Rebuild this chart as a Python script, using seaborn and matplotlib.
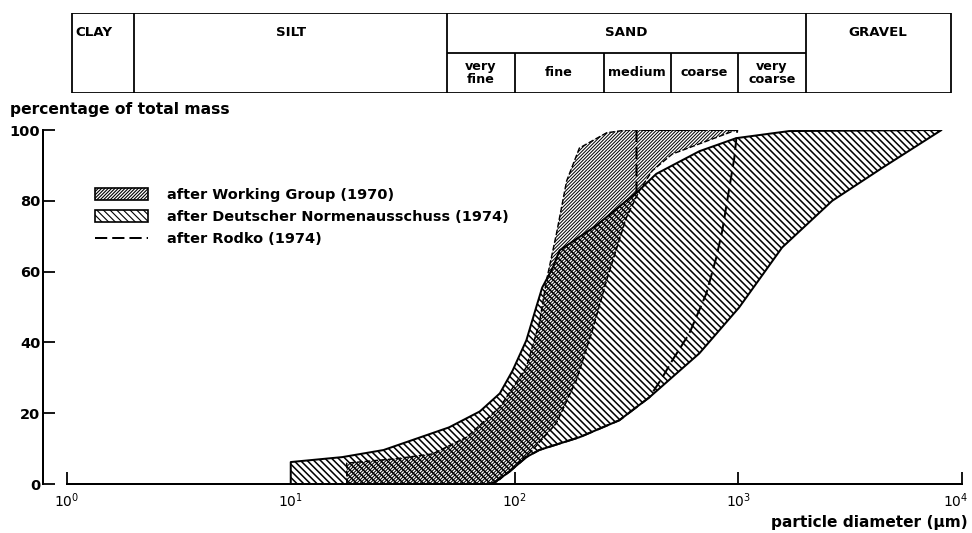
import numpy as np
import matplotlib.pyplot as plt
import matplotlib.transforms as mtransforms
import seaborn as sns
from matplotlib.patches import Patch
from matplotlib.lines import Line2D
from matplotlib.ticker import NullLocator

# Grain size scale (USDA style), particle diameter in um
main_edges = [1.05, 2, 50, 2000, 8900]
main_labels = ["CLAY", "SILT", "SAND", "GRAVEL"]
sand_edges = [50, 100, 250, 500, 1000, 2000]
sand_labels = ["very\nfine", "fine", "medium", "coarse", "very\ncoarse"]

# Deutscher Normenausschuss (1974) envelope
din_upper_x = [10, 10, 17, 26, 51, 70, 86, 98, 113, 125, 133, 148, 159, 232, 361, 430, 670, 980, 1690, 8100]
din_upper_y = [0, 6.2, 7.6, 9.6, 16, 20.5, 25.6, 32, 40.6, 49.9, 55.5, 61, 66, 73, 83, 87.6, 94, 97.7, 99.7, 100]
din_lower_x = [8100, 4400, 2630, 1570, 1010, 670, 401, 294, 195, 129, 113, 95, 82, 78]
din_lower_y = [100, 89.3, 80, 66.8, 49.9, 36.9, 24.5, 18, 13.2, 9.6, 7.6, 3.5, 0.6, 0]

# Working Group (1970) envelope
wg_left_x = [17.8, 17.8, 30, 43, 61, 86, 113, 129, 139, 154, 171, 195, 258, 316, 979]
wg_left_y = [0, 5.9, 7.2, 8.5, 13.2, 21.7, 33, 45.4, 57.5, 70.7, 85.6, 94.9, 99.2, 100, 100]
wg_right_x = [979, 507, 413, 361, 316, 258, 223, 189, 154, 120, 100, 85, 80]
wg_right_y = [100, 93.2, 88.5, 82.8, 75.2, 57.5, 43.4, 29.3, 17.2, 9.5, 5, 1, 0]

# Rodko (1974)
rodko_x = [351, 351, 990, 960, 848, 798, 720, 604, 507, 458, 401, 294, 195, 129, 113, 95, 82, 78]
rodko_y = [82, 100, 100, 92.1, 71.5, 64, 53.8, 42.5, 34.9, 30.1, 24.5, 18, 13.2, 9.6, 7.6, 3.5, 0.6, 0]

legend_labels = ["after Working Group (1970)",
                 "after Deutscher Normenausschuss (1974)",
                 "after Rodko (1974)"]

DPI = 80
sns.set_theme(style="ticks")
plt.rcParams['font.family'] = ['DejaVu Sans']
plt.rcParams['text.color'] = 'black'
plt.rcParams['xtick.color'] = 'black'
plt.rcParams['ytick.color'] = 'black'
plt.rcParams['hatch.linewidth'] = 1.3
plt.rcParams['lines.scale_dashes'] = False

HATCH_WG = '/' * 8
HATCH_DIN = '\\' * 4


def thin_hatch(p, w):
    if hasattr(p, 'set_hatch_linewidth'):
        p.set_hatch_linewidth(w)


fig = plt.figure(figsize=(972 / DPI, 533 / DPI), dpi=DPI)
L, R = 67 / 972, 962 / 972
ax = fig.add_axes([L, 1 - 484 / 533, R - L, (484 - 130) / 533])
ax.set_xscale('log')
ax.set_xlim(1, 1e4)
ax.set_ylim(0, 100)

# hatched bands
din_x = np.r_[din_upper_x, din_lower_x]
din_y = np.r_[din_upper_y, din_lower_y]
wg_x = np.r_[wg_left_x, wg_right_x]
wg_y = np.r_[wg_left_y, wg_right_y]
p1, = ax.fill(din_x, din_y, facecolor='white', edgecolor='black', hatch=HATCH_DIN, lw=0, zorder=1)
p2, = ax.fill(wg_x, wg_y, facecolor='none', edgecolor='black', hatch=HATCH_WG, lw=0, zorder=2)
thin_hatch(p1, 1.4)
thin_hatch(p2, 0.9)

# outlines
sns.lineplot(x=np.r_[din_x, din_x[:1]], y=np.r_[din_y, din_y[:1]], sort=False,
             estimator=None, color='black', lw=1.8, ax=ax, zorder=3)
sns.lineplot(x=wg_x, y=wg_y, sort=False, estimator=None, color='black', lw=1.3,
             linestyle=(0, (5, 2)), ax=ax, zorder=3)
sns.lineplot(x=rodko_x, y=rodko_y, sort=False, estimator=None, color='black', lw=1.8,
             linestyle=(0, (11, 4.5)), ax=ax, zorder=4)

# axes styling
ax.spines[['top', 'right']].set_visible(False)
ax.spines['left'].set_position(('outward', 21.6))
for s in ['left', 'bottom']:
    ax.spines[s].set_linewidth(1.8)
    ax.spines[s].set_color('black')
ax.set_yticks([0, 20, 40, 60, 80, 100])
ax.set_xticks([1, 10, 100, 1000, 10000])
ax.xaxis.set_minor_locator(NullLocator())
ax.tick_params(axis='both', direction='in', length=10.8, width=1.6)
ax.tick_params(axis='y', labelsize=13, pad=2.5)
ax.tick_params(axis='x', labelsize=12.5, pad=7)
for t in ax.get_yticklabels():
    t.set_fontweight('bold')
last = ax.get_xticklabels()[-1]
last.set_transform(last.get_transform() + mtransforms.ScaledTranslation(-6 / DPI, 0, fig.dpi_scale_trans))
ax.set_xlabel('')
ax.set_ylabel('')

fig.text(10 / 972, 1 - 114 / 533, "percentage of total mass", fontsize=14,
         fontweight='bold', ha='left', va='baseline')
fig.text(968 / 972, 1 - 527 / 533, "particle diameter (μm)", fontsize=13.8,
         fontweight='bold', ha='right', va='baseline')

handles = [Patch(facecolor='white', edgecolor='black', hatch=HATCH_WG, lw=1.5),
           Patch(facecolor='white', edgecolor='black', hatch=HATCH_DIN, lw=1.5),
           Line2D([], [], color='black', lw=1.8, linestyle=(0, (11, 4.5)))]
leg = ax.legend(handles, legend_labels, loc='upper left',
                bbox_to_anchor=(95 / 972, 1 - 188 / 533),
                bbox_transform=fig.transFigure, frameon=False,
                prop={'size': 13, 'weight': 'bold'},
                handlelength=3.7, handleheight=0.85, handletextpad=1.3, labelspacing=0.56,
                borderpad=0, borderaxespad=0)
for h in leg.get_patches():
    thin_hatch(h, 1.0)

# grain size table
axt = fig.add_axes([L, 1 - 93 / 533, R - L, 80 / 533])
axt.set_xscale('log')
axt.set_xlim(1, 1e4)
axt.set_ylim(0, 2)
axt.axis('off')
lw_t = 1.6
axt.hlines([0, 2], main_edges[0], main_edges[-1], color='black', lw=lw_t)
axt.hlines(1, sand_edges[0], sand_edges[-1], color='black', lw=lw_t)
axt.vlines(main_edges, 0, 2, color='black', lw=lw_t)
axt.vlines(sand_edges[1:-1], 0, 1, color='black', lw=lw_t)
for i, lab in enumerate(main_labels):
    if i == 0:
        axt.text(main_edges[0] * 1.04, 1.5, lab, ha='left', va='center',
                 fontsize=12, fontweight='bold')
    else:
        xc = np.sqrt(main_edges[i] * main_edges[i + 1])
        axt.text(xc, 1.5, lab, ha='center', va='center', fontsize=12, fontweight='bold')
for i, lab in enumerate(sand_labels):
    xc = np.sqrt(sand_edges[i] * sand_edges[i + 1])
    axt.text(xc, 0.5, lab, ha='center', va='center', fontsize=11.5, fontweight='bold',
             linespacing=0.95)

fig.savefig('out.png', dpi=DPI)
